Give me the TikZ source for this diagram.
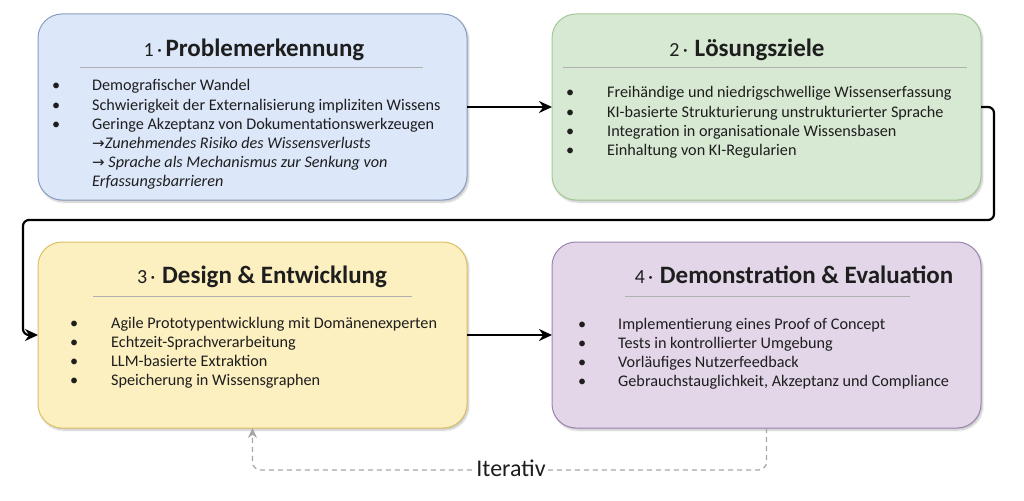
\documentclass[tikz,border=0pt]{standalone}
\usepackage{fontspec}
\setmainfont{Carlito}
\newfontfamily\arrowfont{DejaVu Sans}
\usetikzlibrary{arrows.meta,shadows.blur}
\definecolor{txt}{HTML}{1E1E1E}
\definecolor{fillA}{HTML}{DCE7F9}
\definecolor{drawA}{HTML}{8A9EC0}
\definecolor{fillB}{HTML}{D7E9D2}
\definecolor{drawB}{HTML}{A3C995}
\definecolor{fillC}{HTML}{FCEFC0}
\definecolor{drawC}{HTML}{DEC164}
\definecolor{fillD}{HTML}{E2D6E8}
\definecolor{drawD}{HTML}{9C84B0}
\definecolor{sepcol}{HTML}{B0B0B0}
\definecolor{itercol}{HTML}{A6A6A6}
\newcommand{\bodyfont}{\fontsize{16.2}{19.2}\selectfont}
\newcommand{\numfont}{\fontsize{20}{22}\selectfont}
\newcommand{\headfont}{\bfseries\fontsize{25}{28}\selectfont}
\newcommand{\arr}{{\arrowfont\fontsize{15}{19}\selectfont →}}
\begin{document}
\begin{tikzpicture}[x=1pt,y=-1pt,
  card/.style={rounded corners=24pt, line width=1pt, minimum width=429pt, minimum height=186pt,
    anchor=north west, inner sep=0pt, outer sep=0pt,
    blur shadow={shadow xshift=1.5pt, shadow yshift=-2pt, shadow blur steps=6, shadow opacity=25}},
  head/.style={anchor=base, inner sep=0pt, text=txt},
  list/.style={anchor=base west, inner sep=0pt, text=txt, font=\bodyfont},
  sepline/.style={draw=sepcol, line width=0.9pt},
  flow/.style={draw=black, line width=2.2pt, -{Stealth[length=13pt,width=12pt]}},
  iter/.style={draw=itercol, line width=1.3pt, dash pattern=on 5pt off 4pt, rounded corners=8pt,
    -{Stealth[length=10pt,width=9pt]}},
  iterlabel/.style={fill=white, inner sep=2pt, text=txt, font=\fontsize{24}{26}\selectfont}
]
\useasboundingbox (0,0) rectangle (1024,500);

% boxes
\node[card, fill=fillA, draw=drawA] (b1) at (38,14) {};
\node[card, fill=fillB, draw=drawB] (b2) at (552,14) {};
\node[card, fill=fillC, draw=drawC] (b3) at (38,242) {};
\node[card, fill=fillD, draw=drawD] (b4) at (552,242) {};

% titles
\node[head] (h1) at (254,57) {{\numfont 1\,·\,}{\headfont Problemerkennung}};
\node[head] (h2) at (747,57) {{\numfont 2\,·\,\,}{\headfont Lösungsziele}};
\node[head] (h3) at (262,283) {{\numfont 3\,·\,\,}{\headfont Design \& Entwicklung}};
\node[head] (h4) at (794,283) {{\numfont 4\,·\,\,}{\headfont Demonstration \& Evaluation}};

% separators
\draw[sepline] (80,67) -- (423,67);
\draw[sepline] (563,67) -- (967,67);
\draw[sepline] (93,296) -- (412,296);
\draw[sepline] (625,296) -- (910,296);

% lists
\node[list] (l1) at (52,91) {\begin{tabular}[t]{@{}p{40pt}@{}l@{}}
• & Demografischer Wandel\\
• & Schwierigkeit der Externalisierung impliziten Wissens\\
• & Geringe Akzeptanz von Dokumentationswerkzeugen\\
  & \arr\itshape Zunehmendes Risiko des Wissensverlusts\\
  & \arr\ \itshape Sprache als Mechanismus zur Senkung von\\
  & \itshape Erfassungsbarrieren
\end{tabular}};
\node[list] (l2) at (566,98) {\begin{tabular}[t]{@{}p{41pt}@{}l@{}}
• & Freihändige und niedrigschwellige Wissenserfassung\\
• & KI-basierte Strukturierung unstrukturierter Sprache\\
• & Integration in organisationale Wissensbasen\\
• & Einhaltung von KI-Regularien
\end{tabular}};
\node[list] (l3) at (70,328) {\begin{tabular}[t]{@{}p{41pt}@{}l@{}}
• & Agile Prototypentwicklung mit Domänenexperten\\
• & Echtzeit-Sprachverarbeitung\\
• & LLM-basierte Extraktion\\
• & Speicherung in Wissensgraphen
\end{tabular}};
\node[list] (l4) at (578,329) {\begin{tabular}[t]{@{}p{40pt}@{}l@{}}
• & Implementierung eines Proof of Concept\\
• & Tests in kontrollierter Umgebung\\
• & Vorläufiges Nutzerfeedback\\
• & Gebrauchstauglichkeit, Akzeptanz und Compliance
\end{tabular}};

% connectors
\coordinate (k1) at (994,220);
\coordinate (k2) at (23,220);
\draw[flow] (b1.east) -- (b2.west);
\draw[flow, rounded corners=6pt] (b2.east) -| (k1) -- (k2) |- (b3.west);
\draw[flow] (b3.east) -- (b4.west);

\coordinate (d1) at (766.5,470);
\coordinate (d2) at (252.5,470);
\draw[iter] (b4.south) -- (d1) -- (d2) -- (b3.south);
\node[iterlabel] (it) at (511,468) {Iterativ};
\end{tikzpicture}
\end{document}
